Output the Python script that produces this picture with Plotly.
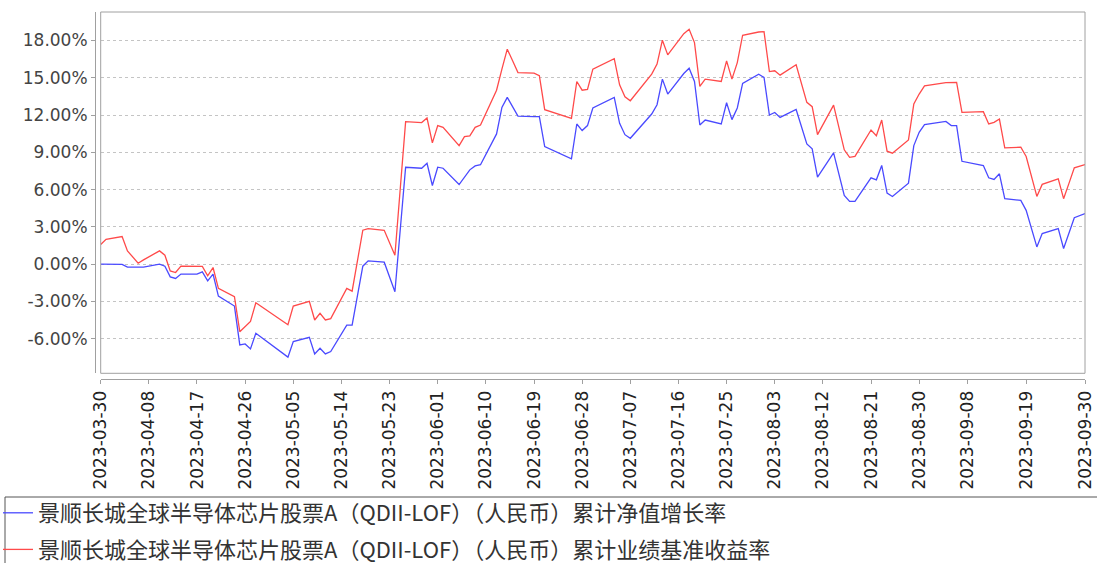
import plotly.graph_objects as go

# ---- data ----
dates = [
    "2023-03-30", "2023-03-31", "2023-04-03", "2023-04-04", "2023-04-06", "2023-04-07",
    "2023-04-10", "2023-04-11", "2023-04-12", "2023-04-13", "2023-04-14", "2023-04-17",
    "2023-04-18", "2023-04-19", "2023-04-20", "2023-04-21", "2023-04-24", "2023-04-25",
    "2023-04-26", "2023-04-27", "2023-04-28", "2023-05-04", "2023-05-05", "2023-05-08",
    "2023-05-09", "2023-05-10", "2023-05-11", "2023-05-12", "2023-05-15", "2023-05-16",
    "2023-05-18", "2023-05-19", "2023-05-22", "2023-05-24", "2023-05-26", "2023-05-29",
    "2023-05-30", "2023-05-31", "2023-06-01", "2023-06-02", "2023-06-05", "2023-06-06",
    "2023-06-07", "2023-06-08", "2023-06-09", "2023-06-12", "2023-06-13", "2023-06-14",
    "2023-06-15", "2023-06-16", "2023-06-19", "2023-06-20", "2023-06-21", "2023-06-26",
    "2023-06-27", "2023-06-28", "2023-06-29", "2023-06-30", "2023-07-04", "2023-07-05",
    "2023-07-06", "2023-07-07", "2023-07-11", "2023-07-12", "2023-07-13", "2023-07-14",
    "2023-07-17", "2023-07-18", "2023-07-19", "2023-07-20", "2023-07-21", "2023-07-24",
    "2023-07-25", "2023-07-26", "2023-07-27", "2023-07-28", "2023-07-31", "2023-08-01",
    "2023-08-02", "2023-08-03", "2023-08-04", "2023-08-07", "2023-08-09", "2023-08-10",
    "2023-08-11", "2023-08-14", "2023-08-16", "2023-08-17", "2023-08-18", "2023-08-21",
    "2023-08-22", "2023-08-23", "2023-08-24", "2023-08-25", "2023-08-28", "2023-08-29",
    "2023-08-30", "2023-08-31", "2023-09-04", "2023-09-05", "2023-09-06", "2023-09-07",
    "2023-09-11", "2023-09-12", "2023-09-13", "2023-09-14", "2023-09-15", "2023-09-18",
    "2023-09-19", "2023-09-21", "2023-09-22", "2023-09-25", "2023-09-26", "2023-09-27",
    "2023-09-28", "2023-09-30",
]

nav_growth = [
    0.00, 0.00, -0.02, -0.24, -0.24, -0.24,
    0.00, -0.16, -1.02, -1.15, -0.80, -0.80,
    -0.62, -1.34, -0.80, -2.57, -3.37, -6.50,
    -6.42, -6.82, -5.56, -7.48, -6.23, -5.88,
    -7.22, -6.76, -7.22, -7.03, -4.90, -4.90,
    -0.16, 0.27, 0.16, -2.22, 7.80, 7.72,
    8.12, 6.33, 7.80, 7.72, 6.41, 7.00,
    7.59, 7.91, 8.00, 10.48, 12.61, 13.42,
    12.61, 11.92, 11.87, 11.87, 9.46, 8.47,
    11.28, 10.75, 11.15, 12.57, 13.42, 11.33,
    10.42, 10.13, 12.08, 12.83, 14.89, 13.69,
    15.34, 15.77, 14.70, 11.20, 11.60, 11.28,
    12.99, 11.63, 12.57, 14.54, 15.29, 15.02,
    12.00, 12.21, 11.81, 12.45, 9.68, 9.28,
    7.00, 8.95, 5.53, 5.05, 5.05, 6.95,
    6.79, 7.94, 5.72, 5.45, 6.52, 9.54,
    10.61, 11.23, 11.49, 11.15, 11.15, 8.28,
    7.94, 6.95, 6.82, 7.27, 5.27, 5.13,
    4.33, 1.39, 2.46, 2.86, 1.26, 2.59,
    3.74, 4.07,
]

benchmark = [
    1.58, 2.00, 2.22, 1.07, 0.08, 0.35,
    1.07, 0.72, -0.54, -0.67, -0.16, -0.21,
    -0.18, -0.94, -0.27, -1.95, -2.62, -5.43,
    -5.00, -4.60, -3.10, -4.87, -3.37, -2.99,
    -4.49, -3.96, -4.49, -4.38, -1.95, -2.17,
    2.73, 2.86, 2.73, 0.72, 11.47, 11.39,
    11.76, 9.76, 11.15, 11.01, 9.54, 10.26,
    10.32, 11.01, 11.20, 14.00, 15.70, 17.30,
    16.36, 15.42, 15.37, 15.16, 12.43, 11.73,
    14.70, 14.00, 14.06, 15.69, 16.54, 14.43,
    13.47, 13.15, 15.29, 16.10, 18.02, 16.84,
    18.55, 18.90, 17.83, 14.30, 14.89, 14.70,
    16.36, 14.89, 16.22, 18.42, 18.68, 18.71,
    15.50, 15.56, 15.21, 16.04, 13.02, 12.67,
    10.42, 12.80, 9.20, 8.60, 8.68, 10.80,
    10.34, 11.60, 9.09, 8.93, 10.00, 12.89,
    13.69, 14.35, 14.60, 14.61, 14.62, 12.21,
    12.27, 11.28, 11.41, 11.68, 9.36, 9.41,
    8.66, 5.45, 6.42, 6.87, 5.27, 6.50,
    7.75, 8.02,
]

tick_dates = [
    "2023-03-30", "2023-04-08", "2023-04-17", "2023-04-26", "2023-05-05", "2023-05-14",
    "2023-05-23", "2023-06-01", "2023-06-10", "2023-06-19", "2023-06-28", "2023-07-07",
    "2023-07-16", "2023-07-25", "2023-08-03", "2023-08-12", "2023-08-21", "2023-08-30",
    "2023-09-08", "2023-09-19", "2023-09-30",
]
y_ticks = [-6, -3, 0, 3, 6, 9, 12, 15, 18]
y_tick_labels = [f"{v:.2f}%" for v in y_ticks]

name_nav = "景顺长城全球半导体芯片股票A（QDII-LOF）（人民币）累计净值增长率"
name_bench = "景顺长城全球半导体芯片股票A（QDII-LOF）（人民币）累计业绩基准收益率"

# ---- figure ----
W, H = 1097, 563
ML, MR, MT, MB = 95, 12, 12, 184
PW = W - ML - MR
PH = H - MT - MB

def px_x(px):
    return (px - ML) / PW

def px_y(py):
    return (H - MB - py) / PH

fig = go.Figure()
fig.add_trace(go.Scatter(x=dates, y=nav_growth, mode="lines", name=name_nav,
                         legendgroup="g1",
                         line=dict(color="#4a4aff", width=1.3)))
fig.add_trace(go.Scatter(x=dates, y=benchmark, mode="lines", name=name_bench,
                         legendgroup="g2",
                         line=dict(color="#ff4a4a", width=1.3)))

x_dom0 = px_x(100.7)
y_dom0 = px_y(373.3)

axis_col = "#a0a0a0"
fig.update_layout(
    width=W, height=H,
    margin=dict(l=ML, r=MR, t=MT, b=MB, pad=0, autoexpand=False),
    paper_bgcolor="white", plot_bgcolor="white",
    xaxis=dict(
        type="date", domain=[x_dom0, 1], anchor="free", position=0,
        range=["2023-03-30", "2023-09-30"],
        tickvals=tick_dates, ticktext=tick_dates, tickangle=-90,
        showgrid=False, zeroline=False,
        showline=True, linecolor=axis_col, linewidth=1,
        ticks="outside", ticklen=4, tickcolor=axis_col,
        tickfont=dict(family="DejaVu Sans", size=17, color="#222222"),
        automargin=False,
    ),
    yaxis=dict(
        domain=[y_dom0, 1], anchor="free", position=0,
        range=[-8.78, 20.29],
        tickvals=y_ticks, ticktext=y_tick_labels,
        showgrid=True, gridcolor="#c4c4c4", griddash="3px,3px", gridwidth=1,
        zeroline=False,
        showline=True, linecolor=axis_col, linewidth=1,
        ticks="outside", ticklen=4, tickcolor=axis_col,
        tickfont=dict(family="DejaVu Sans", size=17, color="#444444"),
        automargin=False,
    ),
    showlegend=True,
    legend=dict(
        xref="paper", yref="paper",
        x=px_x(-2), y=px_y(492), xanchor="left", yanchor="top",
        bgcolor="rgba(0,0,0,0)", borderwidth=0,
        font=dict(family="Noto Sans CJK SC", size=22, color="#333333"),
        itemwidth=30, tracegroupgap=5,
    ),
    shapes=[
        # plot-area border
        dict(type="rect", xref="paper", yref="paper",
             x0=x_dom0, x1=1, y0=y_dom0, y1=1,
             line=dict(color=axis_col, width=1), fillcolor="rgba(0,0,0,0)", layer="above"),
        # legend frame
        dict(type="rect", xref="paper", yref="paper",
             x0=px_x(5), x1=px_x(1105), y0=px_y(497), y1=px_y(575),
             line=dict(color="#555555", width=1), fillcolor="rgba(0,0,0,0)"),
    ],
)

fig.write_html(
    "out.html",
    config={"displayModeBar": False},
    post_script="document.body.style.margin='0';document.body.style.overflow='hidden';",
)
